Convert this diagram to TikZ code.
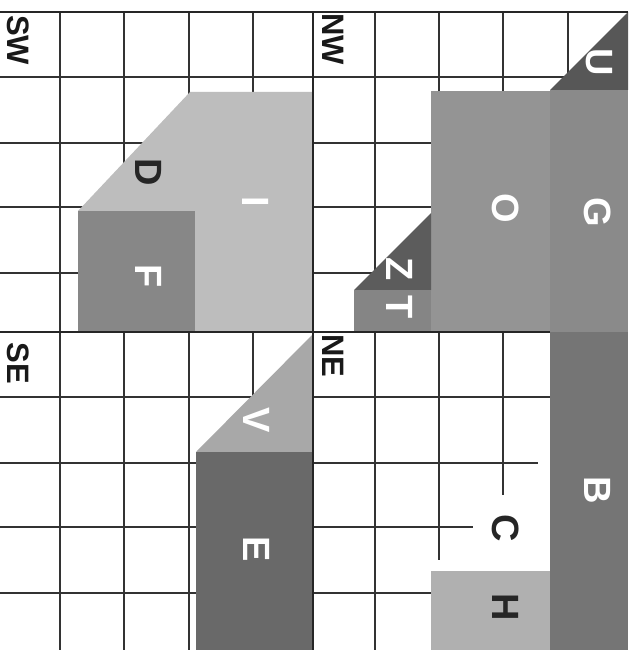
\documentclass[tikz,border=0pt]{standalone}
\usepackage{fontspec}
\setmainfont{Liberation Sans}
\definecolor{gridc}{gray}{0.2}
\definecolor{cI}{gray}{0.74}
\definecolor{cV}{gray}{0.66}
\definecolor{cH}{gray}{0.69}
\definecolor{cF}{gray}{0.53}
\definecolor{cO}{gray}{0.58}
\definecolor{cG}{gray}{0.54}
\definecolor{cT}{gray}{0.52}
\definecolor{cU}{gray}{0.34}
\definecolor{cZ}{gray}{0.36}
\definecolor{cB}{gray}{0.46}
\definecolor{cE}{gray}{0.41}
\begin{document}
\begin{tikzpicture}[x=1pt,y=-1pt,
  gridline/.style={line width=2pt, draw=gridc},
  mainline/.style={line width=2.3pt, draw=black!85},
  lbl/.style={rotate=-90, inner sep=0pt, font=\fontsize{38}{38}\selectfont\bfseries},
  wlbl/.style={lbl, text=white},
  dlbl/.style={lbl, text=black!85},
  qlbl/.style={rotate=-90, inner sep=0pt, font=\fontsize{31}{31}\selectfont\bfseries, text=black!90}]
\useasboundingbox (0,0) rectangle (640,650);
\fill[white] (0,0) rectangle (640,650);
% grid lines
\foreach \y in {77,143,207,273} \draw[gridline] (0,\y) -- (628,\y);
\draw[gridline] (0,397) -- (550,397);
\draw[gridline] (0,463) -- (538,463);
\draw[gridline] (0,527) -- (473,527);
\draw[gridline] (0,593) -- (431,593);
\foreach \x in {60,124,189,253} \draw[gridline] (\x,12) -- (\x,650);
\draw[gridline] (375,12) -- (375,650);
\draw[gridline] (439,12) -- (439,560);
\draw[gridline] (503,12) -- (503,495);
\draw[gridline] (568,12) -- (568,332);
% shapes
\fill[cI] (190,92) -- (313,92) -- (313,332) -- (195,332) -- (195,211) -- (78,211) -- cycle;
\fill[cF] (78,211) rectangle (195,332);
\fill[cU] (550,90) -- (628,12) -- (628,90) -- cycle;
\fill[cG] (550,90) rectangle (628,332);
\fill[cO] (431,91) rectangle (550,332);
\fill[cZ] (354,290) -- (431,213) -- (431,290) -- cycle;
\fill[cT] (354,290) rectangle (431,332);
\fill[cB] (550,332) rectangle (628,650);
\fill[cH] (431,571) rectangle (550,650);
\fill[cV] (196,452) -- (313,334) -- (313,452) -- cycle;
\fill[cE] (196,452) rectangle (313,650);
% main lines
\draw[mainline] (0,12) -- (628,12);
\draw[mainline] (313,12) -- (313,650);
\draw[mainline] (0,332) -- (550,332);
% quadrant labels
\node[qlbl] (sw) at (18,40) {SW};
\node[qlbl] (nw) at (333,39) {NW};
\node[qlbl] (se) at (18,363) {SE};
\node[qlbl] (ne) at (333,356) {NE};
% shape labels
\node[wlbl] (u) at (599,62) {U};
\node[wlbl] (g) at (598,212) {G};
\node[wlbl] (o) at (506,208) {O};
\node[wlbl] (z) at (400,269) {Z};
\node[wlbl] (t) at (400,307) {T};
\node[dlbl] (d) at (149,172) {D};
\node[wlbl] (i) at (256,202) {I};
\node[wlbl] (f) at (149,276) {F};
\node[wlbl] (v) at (257,420) {V};
\node[wlbl] (e) at (257,549) {E};
\node[wlbl] (b) at (598,490) {B};
\node[dlbl] (c) at (506,528) {C};
\node[dlbl] (h) at (506,607) {H};
\end{tikzpicture}
\end{document}
